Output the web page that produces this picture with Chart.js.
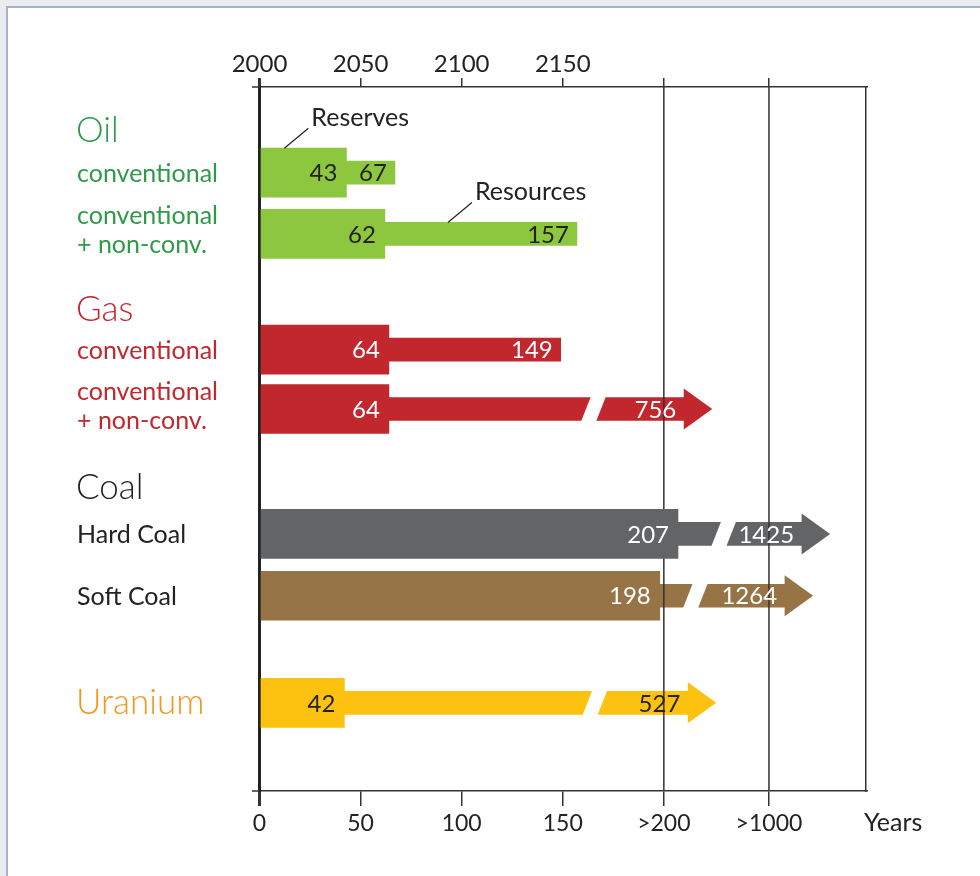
<!DOCTYPE html>
<html lang="en">
<head>
<meta charset="UTF-8">
<title>Reserves and resources</title>
<script src="https://cdn.jsdelivr.net/npm/chart.js"></script>
<style>
    body { margin: 0; background: #e9edf2; width: 980px; height: 876px; overflow: hidden; position: relative; }
    .panel { position: absolute; left: 6px; top: 6px; width: 990px; height: 890px; background: #fff;
             border-left: 2px solid #a7b3c5; border-top: 2px solid #a7b3c5; }
    #chart { position: absolute; left: 0; top: 0; }
</style>
</head>
<body>
<div class="panel"></div>
<canvas id="chart" width="980" height="876"></canvas>
<script>
    // years left, by row
    const rowLabels = [['conventional'], ['conventional', '+ non-conv.'], ['conventional'], ['conventional', '+ non-conv.'], ['Hard Coal'], ['Soft Coal'], []];
    const rowGroup = [0, 0, 1, 1, 2, 2, 3];
    const groups = ['Oil', 'Gas', 'Coal', 'Uranium'];
    const reserves = [43, 62, 64, 64, 207, 198, 42];
    const resources = [67, 157, 149, 756, 1425, 1264, 527];
    // rows whose resources run off the scale: where the bar is broken and where its arrow starts
    const breakAt = [null, null, null, 165.2, 229.6, 215.6, 165.9];
    const arrowAt = [null, null, null, 210.1, 268.4, 260.0, 212.1];
    // row places on the vertical scale
    const rowY = [1.4, 2.4, 4.29, 5.26, 7.3, 8.31, 10.06];
    const groupY = [0.72, 3.64, 6.55, 10.06];
    const tickValues = [0, 50, 100, 150, 200, 252];
    const bottomTicks = ['0', '50', '100', '150', '>200', '>1000'];
    const topTicks = ['2000', '2050', '2100', '2150', '', ''];

    const barColors = ['#8dc63f', '#8dc63f', '#c1272d', '#c1272d', '#636466', '#977446', '#fdc20f'];
    const numColors = ['#222', '#222', '#fff', '#fff', '#fff', '#fff', '#222'];
    const groupColors = ['#2f9a48', '#c1272d', '#222', '#f7941d'];
    const FONT = 'Lato, "Noto Sans", sans-serif';

    function xTicks(scale) {
        scale.ticks = tickValues.map(v => ({ value: v }));
    }

    const breaks = {
        id: 'breaks',
        afterDatasetDraw(chart, args) {
            if (args.index !== 1) return;
            const ctx = chart.ctx, x = chart.scales.x, y = chart.scales.y, area = chart.chartArea;
            ctx.save();
            for (let i = 0; i < rowY.length; i++) {
                if (arrowAt[i] === null) continue;
                const yc = y.getPixelForValue(rowY[i]);
                // arrow head
                const xb = x.getPixelForValue(arrowAt[i]);
                ctx.fillStyle = barColors[i];
                ctx.beginPath();
                ctx.moveTo(xb - 0.5, yc - 20.5);
                ctx.lineTo(xb + 28, yc);
                ctx.lineTo(xb - 0.5, yc + 20.5);
                ctx.closePath();
                ctx.fill();
                // slanted cut
                const c = x.getPixelForValue(breakAt[i]);
                const t = yc - 14, b = yc + 14, s = 5.5;
                ctx.fillStyle = '#fff';
                ctx.beginPath();
                ctx.moveTo(c - 7.5 + s, t);
                ctx.lineTo(c + 7.5 + s, t);
                ctx.lineTo(c + 7.5 - s, b);
                ctx.lineTo(c - 7.5 - s, b);
                ctx.closePath();
                ctx.fill();
            }
            // the >200 and >1000 lines run over the thin bars
            ctx.strokeStyle = '#333';
            ctx.lineWidth = 1.5;
            [200, 252].forEach(v => {
                const px = x.getPixelForValue(v);
                ctx.beginPath();
                ctx.moveTo(px, area.top);
                ctx.lineTo(px, area.bottom);
                ctx.stroke();
            });
            ctx.restore();
        },
        afterDatasetsDraw(chart) {
            const ctx = chart.ctx, x = chart.scales.x, y = chart.scales.y;
            ctx.save();
            ctx.textBaseline = 'middle';
            // numbers in the bars
            ctx.font = '24px ' + FONT;
            ctx.textAlign = 'right';
            for (let i = 0; i < rowY.length; i++) {
                const yc = y.getPixelForValue(rowY[i]) + 1;
                ctx.fillStyle = numColors[i];
                ctx.fillText(String(reserves[i]), x.getPixelForValue(reserves[i]) - 9, yc);
                const end = arrowAt[i] === null ? resources[i] : arrowAt[i];
                ctx.fillText(String(resources[i]), x.getPixelForValue(end) - 8, yc);
            }
            // row names on the left
            ctx.textAlign = 'left';
            groups.forEach((g, k) => {
                ctx.font = '300 35px ' + FONT;
                ctx.fillStyle = groupColors[k];
                ctx.fillText(g, 76, y.getPixelForValue(groupY[k]));
            });
            ctx.font = '25px ' + FONT;
            rowLabels.forEach((lines, i) => {
                ctx.fillStyle = groupColors[rowGroup[i]];
                const yc = y.getPixelForValue(rowY[i]);
                lines.forEach((txt, j) => {
                    ctx.fillText(txt, 77, yc + (j - (lines.length - 1) / 2) * 29 + (lines.length > 1 ? -3 : 1));
                });
            });
            // Reserves / Resources callouts
            ctx.fillStyle = '#222';
            ctx.strokeStyle = '#222';
            ctx.lineWidth = 1.2;
            const callout = (val, row, txt) => {
                const sx = x.getPixelForValue(val);
                const sy = y.getPixelForValue(rowY[row]) - (row === 0 ? 24.5 : 11.5);
                ctx.beginPath();
                ctx.moveTo(sx, sy);
                ctx.lineTo(sx + 24, sy - 20);
                ctx.stroke();
                ctx.fillText(txt, sx + 27, sy - 30);
            };
            callout(12.3, 0, 'Reserves');
            callout(93.2, 1, 'Resources');
            // axis unit
            ctx.fillText('Years', 864, 823);
            // top and bottom frame lines reach a bit left of the axis
            ctx.strokeStyle = '#333';
            ctx.lineWidth = 1.5;
            [chart.chartArea.top, chart.chartArea.bottom].forEach(py => {
                ctx.beginPath();
                ctx.moveTo(252, py);
                ctx.lineTo(chart.chartArea.left, py);
                ctx.stroke();
            });
            ctx.restore();
        }
    };

    const ctx = document.getElementById('chart').getContext('2d');
    new Chart(ctx, {
        type: 'bar',
        data: {
            datasets: [
                {
                    label: 'Reserves',
                    data: rowY.map((r, i) => ({ x: [0, reserves[i]], y: r })),
                    backgroundColor: barColors,
                    barThickness: 49,
                    stack: 'row',
                    order: 0
                },
                {
                    label: 'Resources',
                    data: rowY.map((r, i) => ({ x: [reserves[i], arrowAt[i] === null ? resources[i] : arrowAt[i]], y: r })),
                    backgroundColor: barColors,
                    barThickness: 23,
                    stack: 'row',
                    order: 1
                }
            ]
        },
        options: {
            indexAxis: 'y',
            responsive: false,
            animation: false,
            layout: { padding: { left: 259.5, right: 114, top: 47, bottom: 35 } },
            plugins: { legend: { display: false }, tooltip: { enabled: false } },
            scales: {
                x: {
                    type: 'linear', position: 'bottom', min: 0, max: 300, stacked: false,
                    afterBuildTicks: xTicks,
                    afterFit: s => { s.height = 50; },
                    ticks: { callback: (v, i) => bottomTicks[i], font: { family: FONT, size: 23 }, color: '#222', padding: 4, autoSkip: false, maxRotation: 0 },
                    grid: { drawOnChartArea: false, tickLength: 15, tickColor: '#333', lineWidth: c => (c.tick && c.tick.value === 0 ? 3 : 1.5) },
                    border: { display: true, color: '#333', width: 1.5 }
                },
                xTop: {
                    type: 'linear', position: 'top', axis: 'x', min: 0, max: 300,
                    afterBuildTicks: xTicks,
                    afterFit: s => { s.height = 40; },
                    ticks: { callback: (v, i) => topTicks[i], font: { family: FONT, size: 24 }, color: '#222', padding: -1, autoSkip: false, maxRotation: 0 },
                    grid: { drawOnChartArea: false, tickLength: 9, tickColor: '#333', lineWidth: c => (c.tick && c.tick.value === 0 ? 3 : 1.5) },
                    border: { display: true, color: '#333', width: 1.5 }
                },
                y: {
                    type: 'linear', min: 0, max: 11.5, reverse: true, offset: false,
                    afterFit: s => { s.width = 0; },
                    ticks: { display: false },
                    grid: { display: false, offset: false },
                    border: { display: true, color: '#222', width: 3 }
                },
                yRight: {
                    type: 'linear', position: 'right', axis: 'y', min: 0, max: 1,
                    afterFit: s => { s.width = 0; },
                    ticks: { display: false },
                    grid: { display: false },
                    border: { display: true, color: '#333', width: 1.5 }
                }
            }
        },
        plugins: [breaks]
    });
</script>
</body>
</html>
